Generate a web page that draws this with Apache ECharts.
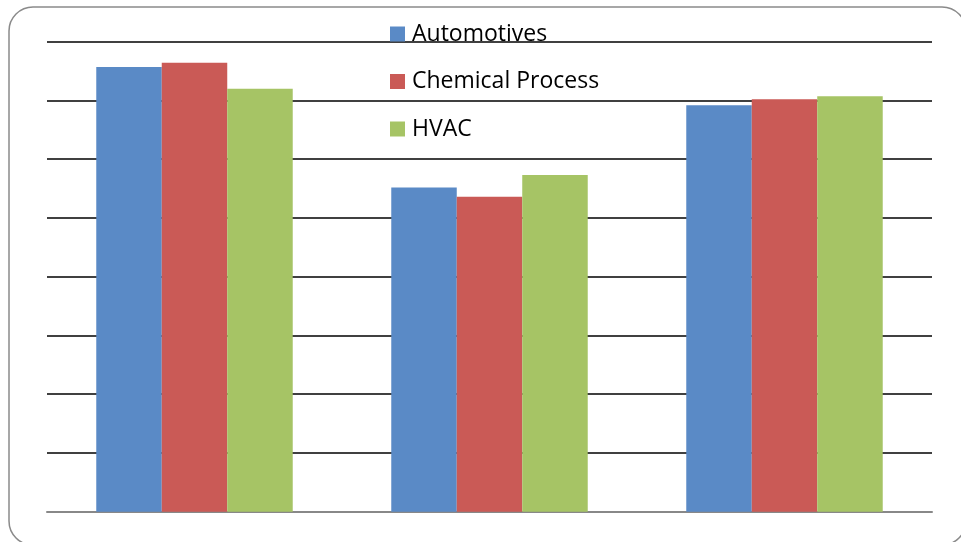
<!DOCTYPE html>
<html>
<head>
<meta charset="utf-8">
<script src="https://cdn.jsdelivr.net/npm/echarts@6/dist/echarts.min.js"></script>
<style>
  html, body { margin: 0; padding: 0; background: #fff; }
  #chart { width: 961px; height: 542px; }
</style>
</head>
<body>
<div id="chart"></div>
<script>
// Category groups along the x axis (labels are not shown on the chart)
const categories = ['Group 1', 'Group 2', 'Group 3'];

// Series names as shown in the legend
const seriesNames = ['Automotives', 'Chemical Process', 'HVAC'];

// Values per series, one per category
const automotives = [75.7, 55.2, 69.2];
const chemicalProcess = [76.4, 53.6, 70.2];
const hvac = [72.0, 57.3, 70.7];

// Value axis range
const yMin = 0;
const yMax = 80;
const yStep = 10;

const colors = ['#5A8AC6', '#CA5A56', '#A6C465'];
const seriesValues = [automotives, chemicalProcess, hvac];

const chart = echarts.init(document.getElementById('chart'), null, { renderer: 'canvas' });

chart.setOption({
  animation: false,
  backgroundColor: '#ffffff',
  color: colors,
  graphic: [{
    type: 'rect',
    shape: { x: 9, y: 7, width: 957, height: 538, r: 24 },
    style: { fill: 'none', stroke: '#8a8a8a', lineWidth: 1.5 },
    z: -10,
    silent: true
  }],
  legend: {
    orient: 'vertical',
    left: 390,
    top: 22,
    padding: 0,
    itemWidth: 15,
    itemHeight: 15,
    itemGap: 23.5,
    icon: 'rect',
    data: seriesNames,
    textStyle: {
      fontFamily: 'Open Sans',
      fontSize: 23,
      lineHeight: 24,
      color: '#000',
      padding: [0, 0, 0, 2]
    }
  },
  grid: {
    left: 47,
    right: 29,
    top: 41.7,
    bottom: 30.3,
    containLabel: false
  },
  xAxis: {
    type: 'category',
    data: categories,
    axisTick: { show: false },
    axisLabel: { show: false },
    axisLine: { show: true, lineStyle: { color: '#888888', width: 2 } },
    splitLine: { show: false }
  },
  yAxis: {
    type: 'value',
    min: yMin,
    max: yMax,
    interval: yStep,
    axisLabel: { show: false },
    axisTick: { show: false },
    axisLine: { show: false },
    splitLine: { show: true, lineStyle: { color: '#000000', width: 1.6 } }
  },
  series: seriesNames.map((name, i) => ({
    name: name,
    type: 'bar',
    data: seriesValues[i],
    barGap: '0%',
    barCategoryGap: '33.4%',
    itemStyle: { color: colors[i] }
  }))
});
</script>
</body>
</html>
